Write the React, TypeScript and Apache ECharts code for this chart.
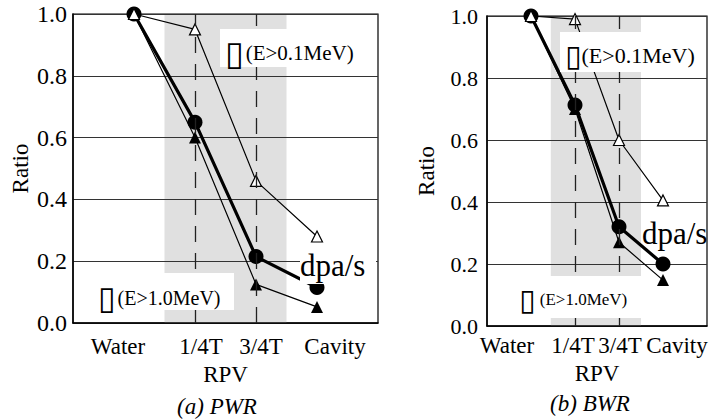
import React, { useEffect, useRef } from "react";
import * as echarts from "echarts";

const categories = ["Water", "1/4T", "3/4T", "Cavity"];
const xPos = [1, 2, 3, 4];

// PWR
const pwrFast01 = [1.0, 0.95, 0.46, 0.28];
const pwrDpa = [1.0, 0.65, 0.215, 0.115];
const pwrFast10 = [1.0, 0.6, 0.125, 0.052];
// BWR
const bwrFast01 = [1.0, 0.99, 0.6, 0.405];
const bwrDpa = [1.0, 0.713, 0.32, 0.2];
const bwrFast10 = [1.0, 0.7, 0.27, 0.148];

const rpvBandLeft = [1.5, 3.5];
const rpvBandRight = [1.45, 3.5];
const rpvDashes = [2, 3];

const FONT = "Liberation Serif";
const BOXFONT = "DejaVu Sans";

const toPts = (vals: number[]) => xPos.map((x, i) => [x, vals[i]]);

export default function App() {
  const ref = useRef<HTMLDivElement>(null);
  useEffect(() => {
    if (!ref.current) return;
    const chart = echarts.init(ref.current, null, { renderer: "svg" });

    const lab = (fs: number, pad: number[]) => ({
      fontFamily: FONT,
      fontSize: fs,
      color: "#000",
      padding: pad,
    });

    const mkX = (idx: number, pads: number[][], margin: number, nameGap: number) => ({
      type: "value",
      gridIndex: idx,
      min: 0,
      max: 5,
      interval: 1,
      z: 1,
      name: "RPV",
      nameLocation: "middle",
      nameGap,
      nameTextStyle: { fontFamily: FONT, fontSize: 23, color: "#000" },
      axisLine: { show: true, lineStyle: { color: "#000", width: 1.5 } },
      axisTick: { show: false },
      splitLine: { show: false },
      axisLabel: {
        margin,
        fontFamily: FONT,
        fontSize: 23,
        color: "#000",
        formatter: (v: number) => {
          const i = xPos.indexOf(v);
          return i >= 0 ? `{l${i}|${categories[i]}}` : "";
        },
        rich: {
          l0: lab(23, pads[0]),
          l1: lab(23, pads[1]),
          l2: lab(23, pads[2]),
          l3: lab(23, pads[3]),
        },
      },
    });

    const mkY = (idx: number, fs: number, margin: number, nameGap: number) => ({
      type: "value",
      gridIndex: idx,
      min: 0,
      max: 1,
      interval: 0.2,
      z: 1,
      name: "Ratio",
      nameLocation: "middle",
      nameGap,
      nameTextStyle: { fontFamily: FONT, fontSize: 23, color: "#000" },
      axisLine: { show: true, lineStyle: { color: "#000", width: 1.5 } },
      axisTick: { show: false },
      splitLine: { show: true, lineStyle: { color: "#333", width: 1 } },
      axisLabel: {
        margin,
        fontFamily: FONT,
        fontSize: fs,
        color: "#000",
        formatter: (v: number) => v.toFixed(1),
      },
    });

    const thin = { color: "#000", width: 1.2 };
    const mkSeries = (idx: number, f01: number[], dpa: number[], f10: number[], band: number[]) => [
      {
        type: "line",
        xAxisIndex: idx,
        yAxisIndex: idx,
        data: toPts(f10),
        symbol: "triangle",
        symbolSize: 12,
        lineStyle: thin,
        itemStyle: { color: "#000" },
        z: 2,
        markArea: {
          silent: true,
          z: 0,
          itemStyle: { color: "#e0e0e0" },
          data: [[{ xAxis: band[0] }, { xAxis: band[1] }]],
        },
        markLine: {
          silent: true,
          symbol: "none",
          label: { show: false },
          lineStyle: { type: [16, 11], color: "#222", width: 1.3 },
          data: rpvDashes.map((d) => ({ xAxis: d })),
        },
      },
      {
        type: "line",
        xAxisIndex: idx,
        yAxisIndex: idx,
        data: toPts(dpa),
        symbol: "circle",
        symbolSize: 15,
        lineStyle: { color: "#000", width: 3.2 },
        itemStyle: { color: "#000" },
        z: 3,
      },
      {
        type: "line",
        xAxisIndex: idx,
        yAxisIndex: idx,
        data: toPts(f01),
        symbol: "triangle",
        symbolSize: 11,
        lineStyle: thin,
        itemStyle: { color: "#fff", borderColor: "#000", borderWidth: 1.2 },
        z: 4,
      },
    ];

    const txt = (text: string, x: number, y: number, size: number, extra: any = {}) => ({
      type: "text",
      x,
      y,
      z: 101,
      style: {
        text,
        fontFamily: FONT,
        fontSize: size,
        fill: "#000",
        verticalAlign: "middle",
        ...extra,
      },
    });
    const legendTxt = (label: string, x: number, y: number, size: number, boxSize: number, gap: number) =>
      txt(`{b|▯}{t|${label}}`, x, y, size, {
        rich: {
          b: { fontFamily: BOXFONT, fontSize: boxSize, fill: "#000", verticalAlign: "middle", padding: [0, gap, 0, 0] },
          t: { fontFamily: FONT, fontSize: size, fill: "#000", verticalAlign: "middle" },
        },
      });
    const box = (x: number, y: number, w: number, h: number) => ({
      type: "rect",
      z: 100,
      shape: { x, y, width: w, height: h },
      style: { fill: "#fff" },
    });

    chart.setOption({
      animation: false,
      textStyle: { fontFamily: FONT, color: "#000" },
      grid: [
        { left: 73, top: 14, width: 305, height: 309, show: true, borderColor: "#000", borderWidth: 1.2, backgroundColor: "transparent" },
        { left: 487, top: 16, width: 220, height: 310, show: true, borderColor: "#000", borderWidth: 1.2, backgroundColor: "transparent" },
      ],
      xAxis: [
        mkX(0, [[0, 32, 0, 0], [0, 0, 0, 12], [0, 0, 0, 10], [0, 0, 0, 36]], 12, 38),
        mkX(1, [[0, 48, 0, 0], [0, 4, 0, 0], [0, 0, 0, 2], [0, 0, 0, 28]], 8, 31),
      ],
      yAxis: [mkY(0, 24, 6, 41), mkY(1, 22, 9, 49)],
      series: [
        ...mkSeries(0, pwrFast01, pwrDpa, pwrFast10, rpvBandLeft),
        ...mkSeries(1, bwrFast01, bwrDpa, bwrFast10, rpvBandRight),
      ],
      graphic: [
        box(220, 29, 135, 38),
        legendTxt("(E>0.1MeV)", 225, 53, 21, 34, 2),
        box(97, 273, 137, 37),
        legendTxt("(E>1.0MeV)", 98, 298, 20, 32, 2),
        box(300, 247, 76, 37),
        txt("dpa/s", 300, 265, 31),
        box(560, 32, 137, 40),
        legendTxt("(E>0.1MeV)", 565, 55, 22, 30, 0),
        box(518, 276, 127, 42),
        legendTxt(" (E>1.0MeV)", 519, 299, 17, 30, 0),
        txt("dpa/s", 642, 233, 31),
        txt("(a) PWR", 217, 406, 23, { textAlign: "center", fontStyle: "italic" }),
        txt("(b) BWR", 590, 403, 23, { textAlign: "center", fontStyle: "italic" }),
      ],
    });
    return () => chart.dispose();
  }, []);
  return (
    <div
      ref={ref}
      style={{ position: "fixed", left: 0, top: 0, width: 716, height: 419, background: "#fff" }}
    />
  );
}
